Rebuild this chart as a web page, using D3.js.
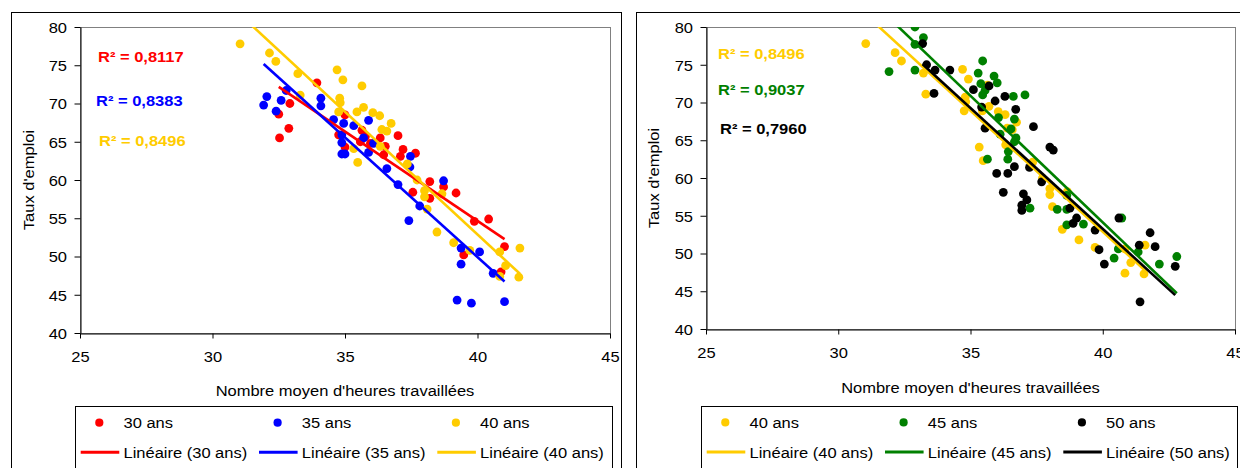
<!DOCTYPE html>
<html><head><meta charset="utf-8">
<script src="https://cdn.jsdelivr.net/npm/d3@7"></script>
<style>
body{margin:0;background:#fff;}
svg{display:block;}
text{font-family:"Liberation Sans",Arial,Helvetica,sans-serif;fill:#000;}
</style>
</head><body>
<svg id="chart" width="1240" height="468"></svg>
<script>
// ---------- data ----------
const xTicks = [25, 30, 35, 40, 45];
const yTicks = [40, 45, 50, 55, 60, 65, 70, 75, 80];

const age30 = [[32.5,68.6],[32.92,70.0],[32.88,66.75],[32.53,65.5],[33.94,72.7],[35.0,68.5],[34.76,65.9],
  [35.64,66.5],[35.77,65.7],[35.58,65.0],[36.33,65.5],[35.96,64.8],[36.52,64.4],[35.0,64.3],[36.46,63.3],
  [37.0,65.8],[37.19,64.0],[37.09,63.1],[37.66,63.5],[37.56,58.4],[38.2,59.8],[38.72,59.1],[39.19,58.3],
  [38.2,57.6],[39.88,54.6],[40.42,54.9],[39.48,50.2],[41.02,51.3],[40.89,48.0]];
const age35 = [[31.93,69.8],[32.05,70.9],[32.4,69.0],[32.59,70.4],[32.78,71.7],[34.09,70.7],[34.09,69.7],
  [34.57,67.9],[35.89,67.8],[34.95,67.4],[35.33,67.1],[34.88,65.9],[34.88,64.9],[35.70,65.5],[36.08,64.8],
  [34.88,63.4],[35.0,63.4],[35.89,63.6],[37.47,63.1],[37.45,61.7],[36.58,61.5],[37.0,59.4],[38.72,59.9],
  [37.82,56.6],[37.41,54.7],[39.38,51.1],[40.08,50.6],[39.38,49.0],[40.59,47.8],[39.23,44.3],[39.77,43.9],[41.02,44.1]];
const age40 = [[31.04,77.8],[32.15,76.6],[32.39,75.5],[33.22,73.9],[33.31,71.1],[34.70,74.4],[34.92,73.1],
  [35.64,72.3],[34.80,70.7],[34.82,70.1],[34.76,68.9],[35.45,68.9],[35.70,69.5],[36.05,68.8],[36.31,68.4],
  [36.74,67.4],[36.39,66.6],[36.58,66.4],[36.33,64.4],[35.33,64.1],[35.48,62.3],[37.35,62.1],[37.72,60.0],
  [38.0,58.6],[38.0,57.8],[38.66,58.2],[38.1,56.2],[38.47,53.2],[39.1,51.8],[39.71,50.8],[40.84,50.6],
  [41.6,51.1],[41.06,48.8],[40.84,47.4],[41.56,47.3]];
const age45 = [[32.9,80.0],[33.22,78.6],[32.9,77.7],[31.92,74.1],[32.9,74.3],[35.46,75.5],[35.29,73.9],
  [35.89,73.5],[36.01,72.6],[35.39,72.5],[35.55,71.6],[35.46,71.0],[37.06,71.0],[36.62,70.8],[36.06,68.0],
  [36.66,67.8],[36.53,66.5],[36.12,65.8],[36.72,65.3],[36.66,64.8],[36.43,63.5],[36.41,62.5],[35.64,62.5],
  [38.64,57.7],[37.25,56.0],[38.28,55.85],[38.64,55.85],[38.64,53.8],[39.27,53.9],[40.72,54.7],[40.59,50.6],
  [41.34,50.2],[40.43,49.4],[42.14,48.6],[42.8,49.6]];
const age50 = [[33.19,77.8],[33.34,75.0],[33.66,74.3],[33.62,71.2],[34.22,74.3],[35.11,71.7],[35.70,72.2],
  [36.30,70.8],[35.93,70.2],[35.42,69.4],[36.71,69.1],[37.38,66.8],[35.55,66.6],[38.0,64.1],[38.13,63.7],
  [36.66,61.5],[35.99,60.6],[36.41,60.6],[37.23,61.4],[37.69,59.5],[36.24,58.1],[37.0,57.9],[37.13,57.1],
  [36.94,56.4],[36.94,55.7],[38.76,56.0],[39.01,54.7],[38.88,54.0],[39.71,53.1],[40.61,54.7],[41.79,52.75],
  [39.86,50.5],[41.38,51.1],[41.98,50.9],[40.06,48.6],[42.74,48.3],[41.41,43.6]];

// linear trend lines: [slope, intercept]
const fit30 = [-2.336, 148.1];
const fit35 = [-3.128, 175.04];
const fit40 = [-3.208, 181.2];
const fit45 = [-3.352, 188.2];
const fit50 = [-3.201, 181.3];

const r2Labels30 = "R² = 0,8117";
const r2Labels35 = "R² = 0,8383";
const r2Labels40 = "R² = 0,8496";
const r2Labels45 = "R² = 0,9037";
const r2Labels50 = "R² = 0,7960";

const xTitle = "Nombre moyen d'heures travaillées";
const yTitle = "Taux d'emploi";

// ---------- drawing ----------
const svg = d3.select("#chart");
const SX = 1.1; // horizontal text stretch
const FS = 15;

function txt(parent, x, y, s, o = {}) {
  return parent.append("text")
    .attr("transform", `translate(${x},${y})${o.rotate ? " rotate(" + o.rotate + ")" : ""} scale(${SX},1)`)
    .attr("text-anchor", o.anchor || "start")
    .style("font-size", (o.size || FS) + "px")
    .style("font-weight", o.bold ? "bold" : "normal")
    .style("fill", o.color || "#000")
    .text(s);
}

function panel(cfg, idx) {
  const g = svg.append("g");
  // outer frame
  g.append("rect").attr("x", cfg.frameX + 0.5).attr("y", 12.5).attr("width", cfg.frameW).attr("height", 600)
    .attr("fill", "#fff").attr("stroke", "#000");

  const x = d3.scaleLinear().domain([25, 45]).range([cfg.x0, cfg.x1]);
  const y = d3.scaleLinear().domain([40, 80]).range([cfg.y1, cfg.y0]);

  // plot area border
  g.append("rect").attr("x", cfg.x0 + 0.5).attr("y", cfg.y0 + 0.5)
    .attr("width", cfg.x1 - cfg.x0).attr("height", cfg.y1 - cfg.y0)
    .attr("fill", "#fff").attr("stroke", "#808080");

  const clipId = "clip" + idx;
  g.append("clipPath").attr("id", clipId).append("rect")
    .attr("x", cfg.x0).attr("y", cfg.y0).attr("width", cfg.x1 - cfg.x0 + 1).attr("height", cfg.y1 - cfg.y0 + 1);

  // points
  const pg = g.append("g").attr("clip-path", `url(#${clipId})`);
  cfg.series.forEach(s => {
    pg.append("g").selectAll("circle").data(s.data).join("circle")
      .attr("cx", d => x(d[0])).attr("cy", d => y(d[1])).attr("r", 4.4)
      .attr("fill", s.color);
  });
  // trend lines
  cfg.series.forEach(s => {
    const xs = d3.extent(s.data, d => d[0]);
    pg.append("line")
      .attr("x1", x(xs[0])).attr("y1", y(s.fit[0] * xs[0] + s.fit[1]))
      .attr("x2", x(xs[1])).attr("y2", y(s.fit[0] * xs[1] + s.fit[1]))
      .attr("stroke", s.color).attr("stroke-width", 2.6);
  });

  // axes
  const ax = g.append("g").attr("transform", `translate(0,${cfg.y1 + 0.5})`)
    .call(d3.axisBottom(x).tickValues(xTicks).tickSize(5).tickSizeOuter(0).tickFormat(d3.format("d")));
  ax.select(".domain").attr("stroke", "#000");
  ax.selectAll(".tick line").attr("stroke", "#000");
  ax.selectAll(".tick text").attr("y", cfg.xLabY).attr("dy", 0)
    .attr("transform", `scale(${SX},1)`).style("font-size", FS + "px").style("font-family", "Liberation Sans, Arial, sans-serif");

  const ay = g.append("g").attr("transform", `translate(${cfg.x0 + 0.5},0)`)
    .call(d3.axisLeft(y).tickValues(yTicks).tickSize(6).tickSizeOuter(0));
  ay.select(".domain").attr("stroke", "#000");
  ay.selectAll(".tick line").attr("stroke", "#000");
  ay.selectAll(".tick text").attr("x", -13.5 / SX).attr("dy", "0.36em")
    .attr("transform", `scale(${SX},1)`).style("font-size", FS + "px").style("font-family", "Liberation Sans, Arial, sans-serif");

  // titles
  txt(g, (cfg.x0 + cfg.x1) / 2, cfg.xTitleY, xTitle, { anchor: "middle" });
  txt(g, cfg.yTitleX, (cfg.y0 + cfg.y1) / 2, yTitle, { anchor: "middle", rotate: -90 });

  // R² labels
  cfg.series.forEach((s, i) => {
    txt(g, cfg.r2[i][0], cfg.r2[i][1], s.r2, { bold: true, color: s.color });
  });

  // legend
  const L = cfg.legend;
  g.append("rect").attr("x", L.x + 0.5).attr("y", L.y + 0.5).attr("width", L.w).attr("height", 120)
    .attr("fill", "#fff").attr("stroke", "#000");
  cfg.series.forEach((s, i) => {
    const cx = L.x + i * 178.3;
    g.append("circle").attr("cx", cx + 24.3).attr("cy", L.row1 - 5.6).attr("r", 4.1).attr("fill", s.color);
    txt(g, cx + 48.5, L.row1, s.name);
    g.append("line").attr("x1", cx + 5.7).attr("x2", cx + 44.3).attr("y1", L.row2 - 6).attr("y2", L.row2 - 6)
      .attr("stroke", s.color).attr("stroke-width", 3);
    txt(g, cx + 48.5, L.row2, "Linéaire (" + s.name + ")");
  });
}

panel({
  frameX: 11, frameW: 610,
  x0: 80, x1: 610, y0: 27, y1: 333,
  xLabY: 29, xTitleY: 395.5, yTitleX: 34,
  r2: [[98, 61.5], [96, 106], [99, 146]],
  legend: { x: 75, y: 406, w: 537, row1: 428.3, row2: 458.3 },
  series: [
    { name: "30 ans", data: age30, fit: fit30, color: "#ff0000", r2: r2Labels30 },
    { name: "35 ans", data: age35, fit: fit35, color: "#0000ff", r2: r2Labels35 },
    { name: "40 ans", data: age40, fit: fit40, color: "#ffcc00", r2: r2Labels40 }
  ]
}, 0);

panel({
  frameX: 636, frameW: 620,
  x0: 706, x1: 1235, y0: 27, y1: 329,
  xLabY: 29, xTitleY: 392.5, yTitleX: 659,
  r2: [[718, 58.7], [718, 94.5], [720, 133.7]],
  legend: { x: 701, y: 406, w: 536, row1: 428, row2: 458 },
  series: [
    { name: "40 ans", data: age40, fit: fit40, color: "#ffcc00", r2: r2Labels40 },
    { name: "45 ans", data: age45, fit: fit45, color: "#008000", r2: r2Labels45 },
    { name: "50 ans", data: age50, fit: fit50, color: "#000000", r2: r2Labels50 }
  ]
}, 1);
</script>
</body></html>
